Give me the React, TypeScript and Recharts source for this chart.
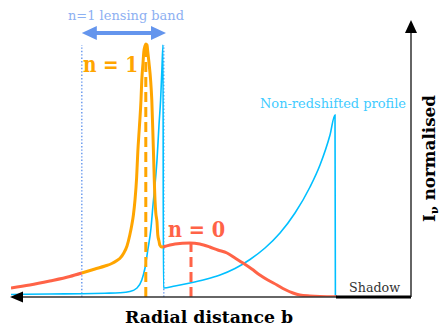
import React from 'react';
import { ComposedChart, Line, XAxis, YAxis, ReferenceLine, ReferenceDot } from 'recharts';

// b grows to the left (arbitrary units), intensity normalised to the n=1 peak
const cyanProfile: [number, number][] = [
  [10, 0.01], [9.03, 0.012], [8.23, 0.013], [7.65, 0.015], [7.28, 0.017], [7.03, 0.022],
  [6.85, 0.036], [6.73, 0.068], [6.65, 0.116], [6.58, 0.188], [6.5, 0.276], [6.45, 0.368],
  [6.4, 0.448], [6.35, 0.548], [6.3, 0.688], [6.26, 0.788], [6.23, 0.9], [6.2, 1.008],
  [6.19, 0.036], [5.9, 0.044], [5.525, 0.056], [5.15, 0.07], [4.775, 0.088], [4.4, 0.114],
  [4.025, 0.15], [3.65, 0.196], [3.275, 0.256], [2.9, 0.336], [2.525, 0.44], [2.275, 0.528],
  [2.025, 0.648], [1.9, 0.728], [1.89, 0],
];

const n0Outer: [number, number][] = [
  [10, 0.036], [9.53, 0.048], [9.03, 0.064], [8.53, 0.082], [8.23, 0.096],
];

const n1Band: [number, number][] = [
  [8.23, 0.096], [7.9, 0.112], [7.65, 0.124], [7.48, 0.134], [7.35, 0.146], [7.28, 0.154],
  [7.18, 0.176], [7.1, 0.204], [7.03, 0.248], [6.98, 0.288], [6.94, 0.328], [6.9, 0.388],
  [6.86, 0.476], [6.83, 0.58], [6.79, 0.68], [6.75, 0.788], [6.73, 0.868], [6.7, 0.936],
  [6.68, 0.98], [6.65, 1.004], [6.63, 1.012], [6.6, 1.008], [6.58, 0.98], [6.55, 0.936],
  [6.51, 0.868], [6.48, 0.788], [6.44, 0.588], [6.4, 0.388], [6.38, 0.336], [6.35, 0.3],
  [6.33, 0.248], [6.3, 0.224], [6.28, 0.208], [6.23, 0.2], [6.2, 0.2],
];

const n0Direct: [number, number][] = [
  [6.2, 0.2], [5.9, 0.212], [5.53, 0.216], [5.28, 0.212], [5.03, 0.2], [4.83, 0.188],
  [4.6, 0.176], [4.4, 0.156], [4.2, 0.136], [3.98, 0.112], [3.78, 0.088], [3.58, 0.068],
  [3.35, 0.048], [3.15, 0.03], [2.95, 0.016], [2.78, 0.008], [2.53, 0.004], [2.28, 0.002],
  [1.85, 0.001],
];

const bandEdges = [8.23, 6.18];
const shadowEdge = 1.875;
const n1Peak = { b: 6.63, I: 1.0 };
const n0Peak = { b: 5.5, I: 0.216 };

const ORANGE = '#FFA500';
const RED = '#FF6347';
const CYAN = '#00BFFF';
const BAND = '#6495ED';
const SERIF = '"DejaVu Serif", "Liberation Serif", serif';

const toRows = (pts: [number, number][]) => pts.map(([b, I]) => ({ b, I }));

const DoubleArrow = (p: any) => {
  const l = Math.min(p.x1, p.x2);
  const r = Math.max(p.x1, p.x2);
  const y = p.y1;
  const head = 15;
  const half = 7;
  return (
    <g>
      <line x1={l + head - 2} y1={y} x2={r - head + 2} y2={y} stroke={BAND} strokeWidth={4} />
      <polygon points={`${l},${y} ${l + head},${y - half} ${l + head},${y + half}`} fill={BAND} />
      <polygon points={`${r},${y} ${r - head},${y - half} ${r - head},${y + half}`} fill={BAND} />
    </g>
  );
};

const BottomAxis = (p: any) => {
  const l = Math.min(p.x1, p.x2);
  const r = Math.max(p.x1, p.x2);
  const y = p.y1;
  return (
    <g>
      <line x1={l + 10} y1={y} x2={r} y2={y} stroke="#333" strokeWidth={1.3} />
      <polygon points={`${l},${y} ${l + 13},${y - 5.5} ${l + 13},${y + 5.5}`} fill="#000" />
    </g>
  );
};

const RightAxis = (p: any) => {
  const x = p.x1;
  const top = Math.min(p.y1, p.y2);
  const bottom = Math.max(p.y1, p.y2);
  return (
    <g>
      <line x1={x} y1={top + 10} x2={x} y2={bottom} stroke="#111" strokeWidth={1.3} />
      <polygon points={`${x},${top} ${x - 6},${top + 13} ${x + 6},${top + 13}`} fill="#000" />
    </g>
  );
};

const label = (text: string, opts: any) => (p: any) => (
  <text
    x={p.cx}
    y={p.cy}
    textAnchor="middle"
    fontFamily={SERIF}
    fontSize={opts.size}
    fontWeight={opts.bold ? 'bold' : 'normal'}
    fill={opts.color}
    textLength={opts.width}
    lengthAdjust="spacingAndGlyphs"
  >
    {text}
  </text>
);

const YTitle = (p: any) => (
  <text
    x={p.cx}
    y={p.cy}
    transform={`rotate(-90, ${p.cx}, ${p.cy})`}
    textAnchor="middle"
    fontFamily={SERIF}
    fontSize={16}
    fontWeight="bold"
    fill="#000"
    textLength={127}
    lengthAdjust="spacingAndGlyphs"
  >
    I<tspan fontSize={11} dy={3}>ν</tspan>
    <tspan dy={-3}> normalised</tspan>
  </text>
);

export default function App() {
  return (
    <div style={{ position: 'absolute', left: 0, top: 0, background: '#fff' }}>
      <ComposedChart width={441} height={327} margin={{ top: 22, right: 30, bottom: 30, left: 11 }}>
        <XAxis type="number" dataKey="b" domain={[0, 10]} reversed hide allowDataOverflow />
        <YAxis type="number" dataKey="I" domain={[0, 1.1]} hide allowDataOverflow />

        {bandEdges.map((b) => (
          <ReferenceLine
            key={b}
            segment={[{ x: b, y: 0 }, { x: b, y: 1.008 }]}
            stroke={BAND}
            strokeWidth={1.4}
            strokeDasharray="1.4 2"
            ifOverflow="visible"
          />
        ))}

        <Line data={toRows(cyanProfile)} dataKey="I" type="monotone" stroke={CYAN} strokeWidth={1.6} dot={false} activeDot={false} isAnimationActive={false} />
        <Line data={toRows(n0Outer)} dataKey="I" type="monotone" stroke={RED} strokeWidth={3} dot={false} activeDot={false} isAnimationActive={false} />
        <Line data={toRows(n0Direct)} dataKey="I" type="monotone" stroke={RED} strokeWidth={3} dot={false} activeDot={false} isAnimationActive={false} />
        <Line data={toRows(n1Band)} dataKey="I" type="monotone" stroke={ORANGE} strokeWidth={3} dot={false} activeDot={false} isAnimationActive={false} />

        <ReferenceLine segment={[{ x: n1Peak.b, y: 0 }, { x: n1Peak.b, y: n1Peak.I }]} stroke={ORANGE} strokeWidth={3} strokeDasharray="10 5" ifOverflow="visible" />
        <ReferenceLine segment={[{ x: n0Peak.b, y: 0 }, { x: n0Peak.b, y: n0Peak.I }]} stroke={RED} strokeWidth={3} strokeDasharray="10 5" ifOverflow="visible" />

        <ReferenceLine segment={[{ x: 10.025, y: 0 }, { x: 0, y: 0 }]} shape={BottomAxis} ifOverflow="visible" />
        <ReferenceLine segment={[{ x: shadowEdge, y: 0 }, { x: 0, y: 0 }]} stroke="#000" strokeWidth={3} ifOverflow="visible" />
        <ReferenceLine segment={[{ x: 0, y: 0 }, { x: 0, y: 1.108 }]} shape={RightAxis} ifOverflow="visible" />
        <ReferenceLine segment={[{ x: bandEdges[0], y: 1.056 }, { x: 6.125, y: 1.056 }]} shape={DoubleArrow} ifOverflow="visible" />

        <ReferenceDot x={7.125} y={1.11} ifOverflow="visible" shape={label('n=1 lensing band', { size: 13, color: '#8DB0F2', width: 116 })} />
        <ReferenceDot x={7.51} y={0.9} ifOverflow="visible" shape={label('n = 1', { size: 22, bold: true, color: ORANGE, width: 55 })} />
        <ReferenceDot x={5.36} y={0.24} ifOverflow="visible" shape={label('n = 0', { size: 22, bold: true, color: RED, width: 57 })} />
        <ReferenceDot x={1.95} y={0.758} ifOverflow="visible" shape={label('Non-redshifted profile', { size: 13, color: '#3FCBFF', width: 146 })} />
        <ReferenceDot x={0.91} y={0.02} ifOverflow="visible" shape={label('Shadow', { size: 12.5, color: '#333', width: 51 })} />
        <ReferenceDot x={5.05} y={-0.104} ifOverflow="visible" shape={label('Radial distance b', { size: 17, bold: true, color: '#000', width: 168 })} />
        <ReferenceDot x={-0.6} y={0.554} ifOverflow="visible" shape={YTitle} />
      </ComposedChart>
    </div>
  );
}
